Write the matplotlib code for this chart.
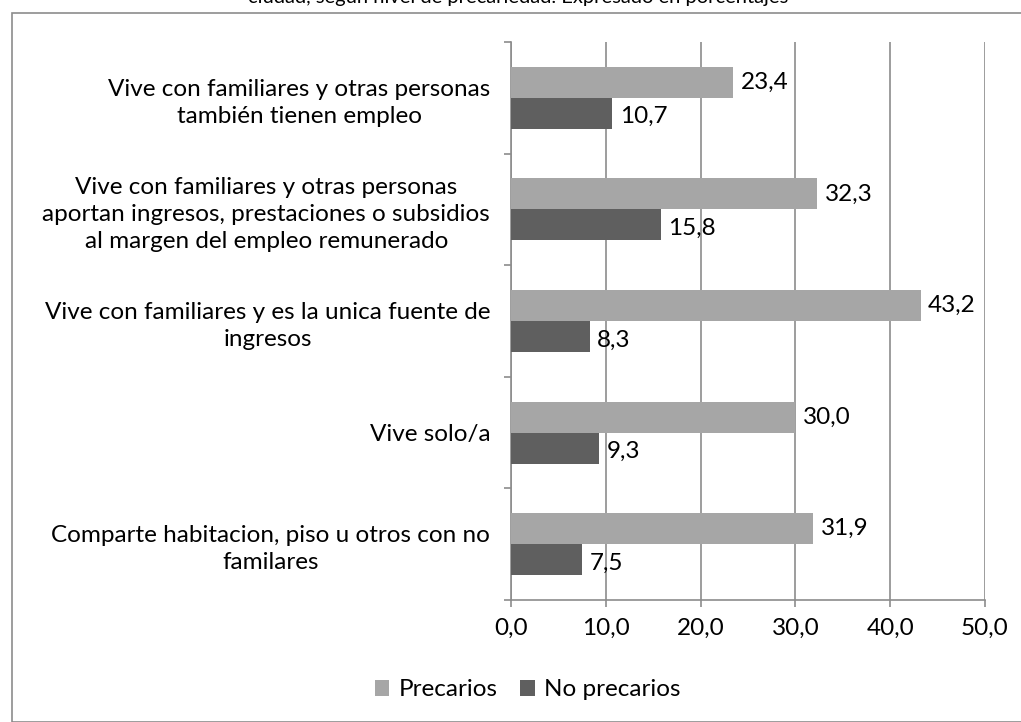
import matplotlib
matplotlib.use("Agg")
import matplotlib.pyplot as plt
from matplotlib.patches import Rectangle
import numpy as np

plt.rcParams['font.family'] = ['Lato', 'DejaVu Sans']

# data (top to bottom as in the picture)
categories = [
    "Vive con familiares y otras personas\ntambién tienen empleo",
    "Vive con familiares y otras personas\naportan ingresos, prestaciones o subsidios\nal margen del empleo remunerado",
    "Vive con familiares y es la unica fuente de\ningresos",
    "Vive solo/a",
    "Comparte habitacion, piso u otros con no\nfamilares",
]
precarios = [23.4, 32.3, 43.2, 30.0, 31.9]
no_precarios = [10.7, 15.8, 8.3, 9.3, 7.5]
series_names = ["Precarios", "No precarios"]
xticks = [0, 10, 20, 30, 40, 50]

c_light = "#a6a6a6"
c_dark = "#5f5f5f"
c_grid = "#8c8c8c"
fs = 17.5

fig = plt.figure(figsize=(10.21, 7.22), dpi=100)
# outer chart border
fig.patches.append(Rectangle((12 / 1021, 0), 1.2, 1 - 13 / 722, transform=fig.transFigure,
                             fill=False, edgecolor="#8c8c8c", linewidth=1.2))
fig.text(0.507, 1.004, "ciudad, según nivel de precariedad. Expresado en porcentajes",
         ha="center", va="center", fontsize=14.5)

ax = fig.add_axes([511 / 1021, 1 - 600 / 722, (985 - 511) / 1021, (600 - 42) / 722])

n = len(categories)
y = np.arange(n)
h = 0.278
ax.barh(y - h / 2, precarios, height=h, color=c_light, label=series_names[0], zorder=3)
ax.barh(y + h / 2, no_precarios, height=h, color=c_dark, label=series_names[1], zorder=3)

for i in range(n):
    ax.text(precarios[i] + 0.8, y[i] - h / 2, f"{precarios[i]:.1f}".replace(".", ","),
            va="center", ha="left", fontsize=fs)
    ax.text(no_precarios[i] + 0.8, y[i] + h / 2 + 0.03, f"{no_precarios[i]:.1f}".replace(".", ","),
            va="center", ha="left", fontsize=fs)

ax.set_ylim(n - 0.5, -0.5)
ax.set_xlim(0, 50)
ax.set_xticks(xticks)
ax.set_xticklabels([f"{v:.1f}".replace(".", ",") for v in xticks], fontsize=fs)
ax.xaxis.grid(True, color=c_grid, linewidth=1.2, zorder=0)
ax.set_yticks(np.arange(n + 1) - 0.5, minor=True)
ax.set_yticks(y)
ax.set_yticklabels(categories, fontsize=fs, ha="right", multialignment="center", linespacing=1.35)
ax.tick_params(axis="y", which="major", length=0, pad=15)
ax.tick_params(axis="y", which="minor", length=5, color=c_grid, width=1.2)
ax.tick_params(axis="x", length=5, color=c_grid, width=1.2, pad=8)
for s in ["top", "right"]:
    ax.spines[s].set_visible(False)
for s in ["left", "bottom"]:
    ax.spines[s].set_color(c_grid)
    ax.spines[s].set_linewidth(1.2)

fig.legend(loc="center", bbox_to_anchor=(0.517, 1 - 690 / 722), ncol=2, frameon=False,
           fontsize=fs, handlelength=0.6, handleheight=0.6, columnspacing=0.9, handletextpad=0.4)

fig.savefig("out.png", dpi=100)
